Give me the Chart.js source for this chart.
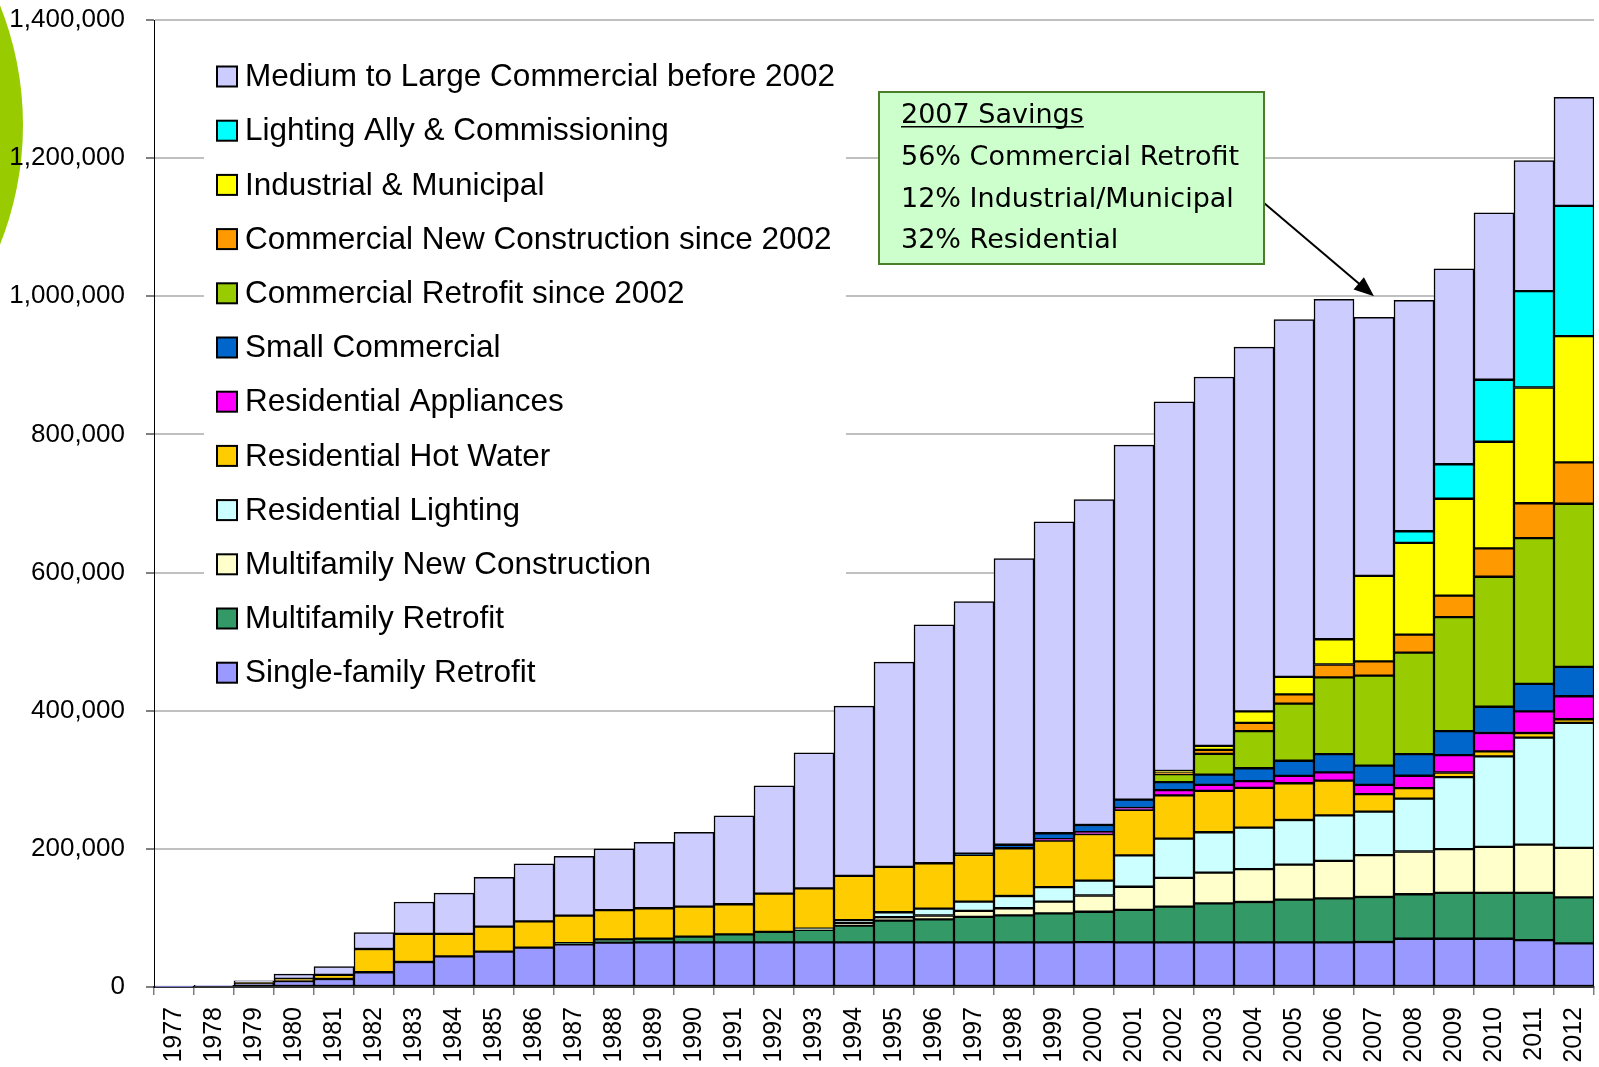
<!DOCTYPE html>
<html>
<head>
<meta charset="utf-8">
<title>Cumulative savings by program</title>
<script src="https://cdn.jsdelivr.net/npm/chart.js@4.4.0/dist/chart.umd.min.js"></script>
<style>
  html, body { margin: 0; padding: 0; background: #fff; }
  #wrap { position: relative; width: 1599px; height: 1067px; }
</style>
</head>
<body>
<div id="wrap"><canvas id="chart" width="1599" height="1067"></canvas></div>
<script>
// Categories
const years = ['1977', '1978', '1979', '1980', '1981', '1982', '1983', '1984', '1985', '1986',
    '1987', '1988', '1989', '1990', '1991', '1992', '1993', '1994', '1995', '1996',
    '1997', '1998', '1999', '2000', '2001', '2002', '2003', '2004', '2005', '2006',
    '2007', '2008', '2009', '2010', '2011', '2012'];

// Series, bottom of the stack first
const singleFamilyRetrofit = [500, 1500, 5000, 8700, 11600, 21300, 36200, 44400, 51200, 57000,
    61800, 64200, 64500, 64500, 64500, 64500, 64700, 64700, 64700, 64700,
    64700, 64700, 64700, 65000, 64500, 64500, 64500, 64500, 64500, 64500,
    65200, 69800, 69800, 69800, 67800, 63200];
const multifamilyRetrofit = [0, 0, 0, 0, 0, 0, 0, 0, 0, 0,
    1500, 4800, 5500, 8400, 11800, 15200, 17900, 24100, 31400, 33300,
    36800, 39100, 42000, 44000, 47200, 51900, 56500, 58500, 61900, 63900,
    65100, 64500, 66500, 66500, 68500, 66500];
const multifamilyNewConstruction = [0, 0, 0, 0, 0, 0, 0, 0, 0, 0,
    0, 0, 0, 0, 0, 0, 1000, 4000, 4900, 5500,
    8800, 10200, 16900, 23500, 33500, 41500, 44500, 47700, 50800, 54300,
    60600, 61900, 63200, 66500, 69900, 71800];
const residentialLighting = [0, 0, 0, 0, 0, 0, 0, 0, 0, 0,
    0, 0, 0, 0, 0, 0, 1000, 4000, 7200, 10000,
    13300, 17800, 21100, 21500, 45300, 56900, 58500, 60100, 64600, 65800,
    63100, 76500, 104400, 131100, 154900, 180900];
const residentialHotWater = [0, 0, 1500, 3000, 6000, 33700, 40600, 32400, 36200, 38100,
    40100, 42300, 44000, 43400, 43500, 55500, 58100, 64000, 65600, 65700,
    67600, 69100, 67200, 67500, 65900, 62700, 60000, 57500, 53200, 50200,
    25300, 15300, 6700, 7300, 6700, 5300];
const residentialAppliances = [0, 0, 0, 0, 0, 0, 0, 0, 0, 0,
    0, 0, 0, 0, 0, 0, 0, 0, 0, 0,
    0, 0, 2000, 2500, 2800, 7500, 8600, 9700, 10700, 12100,
    13300, 17900, 25200, 26600, 31200, 33300];
const smallCommercial = [0, 0, 0, 0, 0, 0, 0, 0, 0, 0,
    0, 0, 0, 0, 0, 0, 0, 0, 0, 0,
    2000, 5000, 8700, 10500, 12000, 11500, 14800, 18700, 21900, 26400,
    27900, 31300, 34600, 37900, 39900, 42500];
const commercialRetrofit = [0, 0, 0, 0, 0, 0, 0, 0, 0, 0,
    0, 0, 0, 0, 0, 0, 0, 0, 0, 0,
    0, 0, 0, 0, 0, 11700, 30000, 53700, 82700, 111100,
    130400, 147000, 165000, 188200, 210900, 236100];
const commercialNewConstruction = [0, 0, 0, 0, 0, 0, 0, 0, 0, 0,
    0, 0, 0, 0, 0, 0, 0, 0, 0, 0,
    0, 0, 0, 0, 0, 2000, 5900, 12000, 13300, 18600,
    20600, 25900, 31200, 41200, 50500, 59900];
const industrialMunicipal = [0, 0, 0, 0, 0, 0, 0, 0, 0, 0,
    0, 0, 0, 0, 0, 0, 0, 0, 0, 0,
    0, 0, 0, 0, 0, 2500, 5800, 16600, 25300, 36600,
    123700, 133000, 140300, 154300, 167600, 182900];
const lightingAlly = [0, 0, 0, 0, 0, 0, 0, 0, 0, 0,
    0, 0, 0, 0, 0, 0, 0, 0, 0, 0,
    0, 0, 0, 0, 0, 0, 0, 0, 0, 0,
    0, 16700, 49900, 89800, 139600, 188600];
const mediumLargeCommercial = [0, 1000, 2500, 7000, 11800, 23700, 46200, 59200, 71400, 83100,
    85900, 88600, 95600, 107700, 127900, 155900, 196300, 245800, 296500, 345200,
    364900, 414300, 450800, 471000, 513300, 534600, 534100, 527400, 517400, 492100,
    374400, 334400, 282900, 241800, 188800, 156900];

// Y axis
const yTicks = [0, 200000, 400000, 600000, 800000, 1000000, 1200000, 1400000];

// Annotation text
const noteLines = ['2007 Savings', '56% Commercial Retrofit', '12% Industrial/Municipal', '32% Residential'];

const series = [
    { label: 'Single-family Retrofit', data: singleFamilyRetrofit, color: '#9999FF' },
    { label: 'Multifamily Retrofit', data: multifamilyRetrofit, color: '#339966' },
    { label: 'Multifamily New Construction', data: multifamilyNewConstruction, color: '#FFFFCC' },
    { label: 'Residential Lighting', data: residentialLighting, color: '#CCFFFF' },
    { label: 'Residential Hot Water', data: residentialHotWater, color: '#FFCC00' },
    { label: 'Residential Appliances', data: residentialAppliances, color: '#FF00FF' },
    { label: 'Small Commercial', data: smallCommercial, color: '#0066CC' },
    { label: 'Commercial Retrofit since 2002', data: commercialRetrofit, color: '#99CC00' },
    { label: 'Commercial New Construction since 2002', data: commercialNewConstruction, color: '#FF9900' },
    { label: 'Industrial & Municipal', data: industrialMunicipal, color: '#FFFF00' },
    { label: 'Lighting Ally & Commissioning', data: lightingAlly, color: '#00FFFF' },
    { label: 'Medium to Large Commercial before 2002', data: mediumLargeCommercial, color: '#CCCCFF' }
];

const xFont = { family: '"Liberation Sans", Arial, sans-serif', size: 25 };
const yFont = { family: '"Liberation Sans", Arial, sans-serif', size: 26 };

// Extra drawing: slide circle, legend panel, savings note with arrow
const decorPlugin = {
    id: 'decor',
    beforeDraw(chart) {
        const ctx = chart.ctx;
        ctx.save();
        ctx.fillStyle = '#99CC00';
        ctx.beginPath();
        ctx.arc(-300, 125, 323, 0, Math.PI * 2);
        ctx.fill();
        ctx.restore();
    },
    beforeDatasetsDraw(chart) {
        const ctx = chart.ctx;
        ctx.save();
        // white legend panel covers the gridlines
        ctx.fillStyle = '#ffffff';
        ctx.fillRect(204, 40, 642, 662);

        ctx.font = '31.5px "Liberation Sans", Arial, sans-serif';
        ctx.textBaseline = 'middle';
        const items = series.slice().reverse();
        items.forEach((s, i) => {
            const cy = 76.5 + i * 54.2;
            ctx.fillStyle = s.color;
            ctx.fillRect(217, cy - 10, 20, 20);
            ctx.strokeStyle = '#000';
            ctx.lineWidth = 2;
            ctx.strokeRect(217, cy - 10, 20, 20);
            ctx.fillStyle = '#000';
            ctx.fillText(s.label, 245, cy + 1);
        });
        ctx.restore();
    },
    afterDraw(chart) {
        const ctx = chart.ctx;
        const x = chart.scales.x;
        const y = chart.scales.y;
        ctx.save();

        // arrow to the 2007 bar
        const sx = 1264, sy = 203;
        const tx = x.getPixelForValue(years.indexOf('2007'));
        const ty = y.getPixelForValue(1000000);
        const ang = Math.atan2(ty - sy, tx - sx);
        ctx.strokeStyle = '#000';
        ctx.fillStyle = '#000';
        ctx.lineWidth = 2;
        ctx.beginPath();
        ctx.moveTo(sx, sy);
        ctx.lineTo(tx - 16 * Math.cos(ang), ty - 16 * Math.sin(ang));
        ctx.stroke();
        ctx.beginPath();
        ctx.moveTo(tx, ty);
        ctx.lineTo(tx - 20 * Math.cos(ang) + 8 * Math.sin(ang), ty - 20 * Math.sin(ang) - 8 * Math.cos(ang));
        ctx.lineTo(tx - 20 * Math.cos(ang) - 8 * Math.sin(ang), ty - 20 * Math.sin(ang) + 8 * Math.cos(ang));
        ctx.closePath();
        ctx.fill();

        // note box
        ctx.fillStyle = '#CCFFCC';
        ctx.fillRect(879, 92, 385, 172);
        ctx.strokeStyle = '#4A7E2A';
        ctx.lineWidth = 2;
        ctx.strokeRect(879, 92, 385, 172);

        ctx.fillStyle = '#000';
        ctx.font = '27px "DejaVu Sans", Verdana, sans-serif';
        ctx.textBaseline = 'alphabetic';
        noteLines.forEach((t, i) => {
            const base = 123 + i * 41.8;
            ctx.fillText(t, 901, base);
            if (i === 0) {
                const w = ctx.measureText(t).width;
                ctx.fillRect(901, base + 3, w, 1.5);
            }
        });
        ctx.restore();
    }
};

const ctx = document.getElementById('chart').getContext('2d');
const chart = new Chart(ctx, {
    type: 'bar',
    data: {
        labels: years,
        datasets: series.map(s => ({
            label: s.label,
            data: s.data,
            backgroundColor: s.color,
            borderColor: '#000000',
            borderWidth: 1.5,
            borderSkipped: false,
            categoryPercentage: 1.0,
            barPercentage: 1.0
        }))
    },
    options: {
        responsive: false,
        devicePixelRatio: 1,
        animation: false,
        layout: {
            padding: { top: 20, right: 5, left: 0, bottom: 0 }
        },
        plugins: {
            legend: { display: false },
            tooltip: { enabled: false }
        },
        scales: {
            x: {
                stacked: true,
                grid: {
                    display: true,
                    drawOnChartArea: false,
                    offset: true,
                    tickLength: 8,
                    color: '#808080',
                    lineWidth: 1.5
                },
                border: { color: '#333333', width: 2 },
                ticks: {
                    font: xFont,
                    color: '#000',
                    minRotation: 90,
                    maxRotation: 90,
                    autoSkip: false,
                    padding: 12
                },
                afterFit: (scale) => {
                    scale.height = 80;
                    scale.paddingLeft = 0;
                    scale.paddingRight = 0;
                }
            },
            y: {
                stacked: true,
                min: 0,
                max: 1400000,
                afterBuildTicks: (scale) => {
                    scale.ticks = yTicks.map(v => ({ value: v }));
                },
                grid: {
                    color: '#C0C0C0',
                    lineWidth: 2,
                    tickLength: 8,
                    tickColor: '#000',
                    tickWidth: 1
                },
                border: { color: '#000', width: 1 },
                ticks: {
                    font: yFont,
                    color: '#000',
                    padding: 21,
                    callback: (v) => Number(v).toLocaleString('en-US')
                },
                afterFit: (scale) => {
                    scale.width = 154;
                    scale.paddingTop = 0;
                    scale.paddingBottom = 0;
                }
            }
        }
    },
    plugins: [decorPlugin]
});
</script>
</body>
</html>
